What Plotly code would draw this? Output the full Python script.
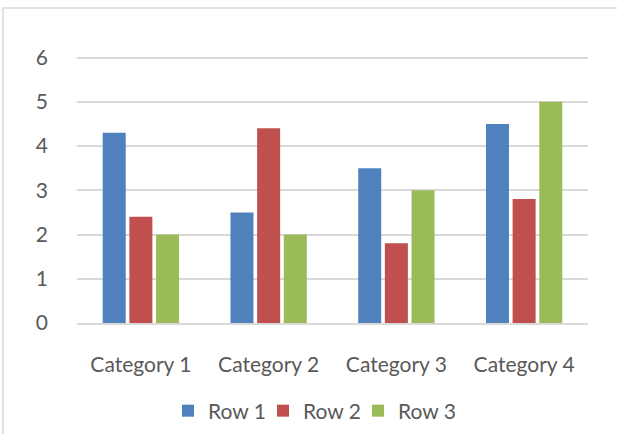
import plotly.graph_objects as go

categories = ["Category 1", "Category 2", "Category 3", "Category 4"]
row1 = [4.3, 2.5, 3.5, 4.5]
row2 = [2.4, 4.4, 1.8, 2.8]
row3 = [2, 2, 3, 5]
series_names = ["Row 1", "Row 2", "Row 3"]
colors = ["#4f81bd", "#c0504d", "#9bbb59"]
y_ticks = [0, 1, 2, 3, 4, 5, 6]

W, H = 617, 434
L, R, T, B = 77, 29, 56, 111
pw, ph = W - L - R, H - T - B
ymax = 6 * ph / (ph - 1.5)

def px_x(p):
    return (p - L) / pw

def px_y(p):
    return (H - B - p) / ph

fig = go.Figure()
for name, vals, c in zip(series_names, [row1, row2, row3], colors):
    fig.add_trace(go.Bar(x=categories, y=vals, name=name, marker=dict(color=c, line=dict(width=0))))

font = dict(family="Lato, Open Sans, sans-serif", size=21, color="#595959")
fig.update_layout(
    width=W, height=H,
    margin=dict(l=L, r=R, t=T, b=B, autoexpand=False),
    paper_bgcolor="white", plot_bgcolor="white",
    barmode="group", bargap=0.374, bargroupgap=0.137,
    font=font,
    showlegend=True,
    legend=dict(orientation="h", x=px_x(168), xanchor="left", y=px_y(411), yanchor="middle",
                font=font, itemwidth=30, tracegroupgap=0, bgcolor="rgba(0,0,0,0)",
                entrywidth=50, entrywidthmode="pixels"),
    xaxis=dict(showgrid=False, showline=True, linecolor="#d9d9d9", linewidth=1.5,
               ticks="", ticklabelstandoff=22, tickfont=font),
    yaxis=dict(range=[0, ymax], tickvals=y_ticks, showgrid=True, gridcolor="#d9d9d9", gridwidth=1.5,
               zeroline=False, showline=False, ticks="", ticklabelstandoff=28, tickfont=font),
    shapes=[dict(type="rect", xref="paper", yref="paper",
                 x0=px_x(3), x1=px_x(640), y0=px_y(460), y1=px_y(8),
                 line=dict(color="#d9d9d9", width=1.5), fillcolor="rgba(0,0,0,0)", layer="below")],
)

post = """
document.body.style.margin='0';
document.body.style.overflow='hidden';
var gd = document.getElementById('{plot_id}');
function unclip() {
  document.querySelectorAll('.legend [clip-path], .legend[clip-path]').forEach(function(e) {
    e.removeAttribute('clip-path');
  });
}
unclip();
setTimeout(unclip, 0);
if (gd && gd.on) { gd.on('plotly_afterplot', unclip); }
"""
fig.write_html("out.html", config={"displayModeBar": False}, post_script=post)
